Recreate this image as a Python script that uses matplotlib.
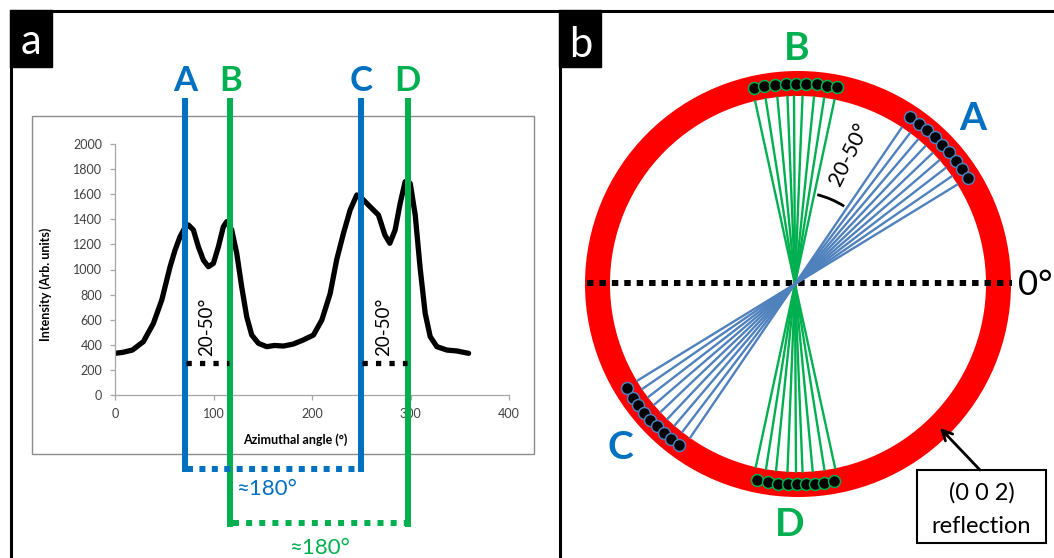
import numpy as np
import matplotlib
matplotlib.use('Agg')
import matplotlib.pyplot as plt
from matplotlib.patches import Rectangle, Circle, Arc
from matplotlib.transforms import blended_transform_factory

plt.rcParams['font.family'] = ['Lato', 'DejaVu Sans']

# ---- panel a: azimuthal intensity profile
angle = [0, 8, 17.6, 28.8, 39, 47.5, 55.9, 61, 66, 70, 74.5, 79.6, 84.6, 89.7,
         94.8, 99.9, 105, 110, 113.4, 118.5, 123.6, 128.6, 133.7, 138.8, 145.6,
         154, 162, 171, 181, 191, 201.5, 210, 218.5, 225, 232, 238.7, 245.5,
         250.6, 259, 267.5, 274, 279, 284.4, 289.5, 294.6, 299.7, 304.8, 309.8,
         314.9, 320, 326.8, 337, 347, 359]
intensity = [332, 340, 358, 425, 571, 757, 1022, 1155, 1261, 1320, 1355, 1315,
             1182, 1076, 1022, 1049, 1182, 1341, 1381, 1315, 1129, 863, 624, 478,
             412, 385, 395, 390, 406, 438, 478, 598, 810, 1076, 1290, 1474, 1594,
             1567, 1500, 1434, 1275, 1209, 1315, 1527, 1700, 1687, 1434, 1010, 651,
             465, 385, 358, 351, 332]
peak_labels = ['A', 'B', 'C', 'D']
peak_angles = [71, 117, 250, 297]
span_level = 255
x_ticks = [0, 100, 200, 300, 400]
y_ticks = [0, 200, 400, 600, 800, 1000, 1200, 1400, 1600, 1800, 2000]

# ---- panel b: fibre fans and reflection dots (angles in degrees)
fan_A = [55.7, 52.7, 49.6, 46.6, 43.6, 40.6, 37.6, 34.5, 31.5]
fan_B = [102.3, 99.0, 95.4, 92.3, 90.3, 87.7, 84.2, 81.1, 77.9]
dots_A = [56.2, 52.8, 50.0, 47.0, 44.0, 41.2, 38.0, 34.9, 31.9]
dots_B = [102.7, 99.8, 96.6, 93.5, 90.7, 87.8, 84.6, 81.6, 78.7]
dots_C = [211.3, 214.5, 217.0, 220.0, 222.6, 225.2, 228.0, 230.8, 233.5]
dots_D = [258.3, 261.4, 264.3, 267.0, 269.6, 272.3, 274.9, 277.5, 280.3]

BLUE = '#0070C0'
GREEN = '#00B050'
FANBLUE = '#4F81BD'

W, H = 1054, 558
fig = plt.figure(figsize=(W / 100, H / 100), dpi=100)

# excel-style chart
ax = fig.add_axes([115 / W, (H - 395) / H, 394 / W, 251 / H])
ax.plot(angle, intensity, color='black', lw=3.8, solid_joinstyle='round',
        solid_capstyle='round')
ax.set_xlim(0, 400)
ax.set_ylim(0, 2000)
ax.set_xticks(x_ticks)
ax.set_yticks(y_ticks)
for s in ['top', 'right']:
    ax.spines[s].set_visible(False)
for s in ['left', 'bottom']:
    ax.spines[s].set_color('#A6A6A6')
    ax.spines[s].set_linewidth(0.9)
ax.tick_params(axis='both', direction='out', length=3.6, width=0.9,
               color='#A6A6A6', labelsize=9, labelcolor='#404040')
ax.tick_params(axis='x', pad=6)
ax.tick_params(axis='y', pad=5.5)
ax.set_ylabel('Intensity (Arb. units)', fontsize=9, fontweight='bold')
ax.yaxis.set_label_coords(-0.16, 0.442)
ax.set_xlabel('Azimuthal angle (°)', fontsize=9, fontweight='bold')
ax.xaxis.set_label_coords(0.457, -0.151)
ax.patch.set_alpha(0)

# overlay in pixel coordinates
ov = fig.add_axes([0, 0, 1, 1])
ov.set_xlim(0, W)
ov.set_ylim(H, 0)
ov.axis('off')
ov.patch.set_alpha(0)

# frames
ov.plot([11, W], [11, 11], color='black', lw=2.2, solid_capstyle='projecting')
ov.plot([11, 11], [11, H], color='black', lw=2.2)
ov.plot([560, 560], [11, H], color='black', lw=2.2)
ov.add_patch(Rectangle((32, 116), 502, 338, fill=False, ec='#8C8C8C', lw=1))
ov.add_patch(Rectangle((10, 10), 42, 57, color='black'))
ov.add_patch(Rectangle((559, 10), 42, 57, color='black'))
ov.text(30.5, 53.5, 'a', color='white', fontsize=30, ha='center', va='baseline')
ov.text(581, 57, 'b', color='white', fontsize=30, ha='center', va='baseline')

# panel a markers
bt = blended_transform_factory(ax.transData, ov.transData)
vt = blended_transform_factory(ax.transData, ax.transData)
for lab, a in zip(peak_labels, peak_angles):
    col = BLUE if lab in 'AC' else GREEN
    bottom = 472 if lab in 'AC' else 527
    ov.plot([a, a], [98, bottom], color=col, lw=4.3, transform=bt,
            solid_capstyle='butt')
    ov.text(a, 91, lab, color=col, fontsize=25, fontweight='bold',
            ha='center', va='baseline', transform=bt)

a_, b_, c_, d_ = peak_angles
ov.plot([a_ + 2.5, c_ - 2], [469, 469], color=BLUE, lw=4.3, transform=bt,
        linestyle=(0, (1, 1.08)), dash_capstyle='butt')
ov.plot([b_ + 2.5, d_ - 2], [523, 523], color=GREEN, lw=4.3, transform=bt,
        linestyle=(0, (1, 1.2)), dash_capstyle='butt')
ov.text((a_ + c_) / 2 - 0.5 * (c_ - a_) * 0.07, 495, '≈180°', color=BLUE,
        fontsize=16, ha='center', va='baseline', transform=bt)
ov.text((b_ + d_) / 2 + 0.5, 554, '≈180°', color=GREEN,
        fontsize=16, ha='center', va='baseline', transform=bt)
for p, q in [(a_, b_), (c_, d_)]:
    ov.plot([p + 1, q - 1], [span_level, span_level], color='black', lw=3.8,
            transform=vt, linestyle=(0, (1, 1.55)), dash_capstyle='butt')
    ov.text((p + q) / 2 - 1, 540, '20-50°', rotation=90, fontsize=13.5,
            ha='center', va='center', transform=vt)

# panel b
cx, cy = 798, 284
r_mid = 200.5
r_in = 187.5
x0, y0 = 795, 284

ov.add_patch(Circle((cx, cy), r_mid, fill=False, ec='#FF0000', lw=18))
ov.plot([587, 1012], [cy - 1, cy - 1], color='black', lw=4.3,
        linestyle=(0, (1.08, 1.0)), dash_capstyle='butt')


def fan_ends(theta):
    d = np.array([np.cos(np.radians(theta)), -np.sin(np.radians(theta))])
    w = np.array([x0 - cx, y0 - cy])
    wd = w @ d
    root = np.sqrt(wd ** 2 - w @ w + r_in ** 2)
    s1, s2 = -wd + root, -wd - root
    p1 = np.array([x0, y0]) + s1 * d
    p2 = np.array([x0, y0]) + s2 * d
    return [p1[0], p2[0]], [p1[1], p2[1]]


for th in fan_B:
    xs, ys = fan_ends(th)
    ov.plot(xs, ys, color=GREEN, lw=1.7)
for th in fan_A:
    xs, ys = fan_ends(th)
    ov.plot(xs, ys, color=FANBLUE, lw=1.7)

for dots, ec in [(dots_A, FANBLUE), (dots_B, GREEN), (dots_C, FANBLUE), (dots_D, GREEN)]:
    t = np.radians(dots)
    ov.plot(cx + r_mid * np.cos(t), cy - r_mid * np.sin(t), 'o', ms=8.6,
            mfc='black', mec=ec, mew=1.1)

ov.add_patch(Arc((x0, y0), 184, 184, theta1=-76, theta2=-57.7, color='black', lw=2))
ov.text(849, 154, '20-50°', rotation=64, fontsize=15.5, ha='center', va='center',
        rotation_mode='anchor')

ov.text(797, 60.5, 'B', color=GREEN, fontsize=28, fontweight='bold', ha='center', va='baseline')
ov.text(973, 130, 'A', color=BLUE, fontsize=28, fontweight='bold', ha='center', va='baseline')
ov.text(620, 459, 'C', color=BLUE, fontsize=28, fontweight='bold', ha='center', va='baseline')
ov.text(789.5, 535.6, 'D', color=GREEN, fontsize=28, fontweight='bold', ha='center', va='baseline')
ov.text(1018, 295, '0°', fontsize=25, ha='left', va='baseline')

ov.annotate('', xy=(940, 428), xytext=(980, 470),
            arrowprops=dict(arrowstyle='->', lw=2, color='black', mutation_scale=18,
                            shrinkA=0, shrinkB=0))
ov.add_patch(Rectangle((917, 470), 129, 73, fill=False, ec='black', lw=1.5))
ov.text(981.5, 500, '(0 0 2)', fontsize=17, ha='center', va='baseline')
ov.text(981.5, 533, 'reflection', fontsize=17, ha='center', va='baseline')

fig.savefig('out.png', dpi=100)
